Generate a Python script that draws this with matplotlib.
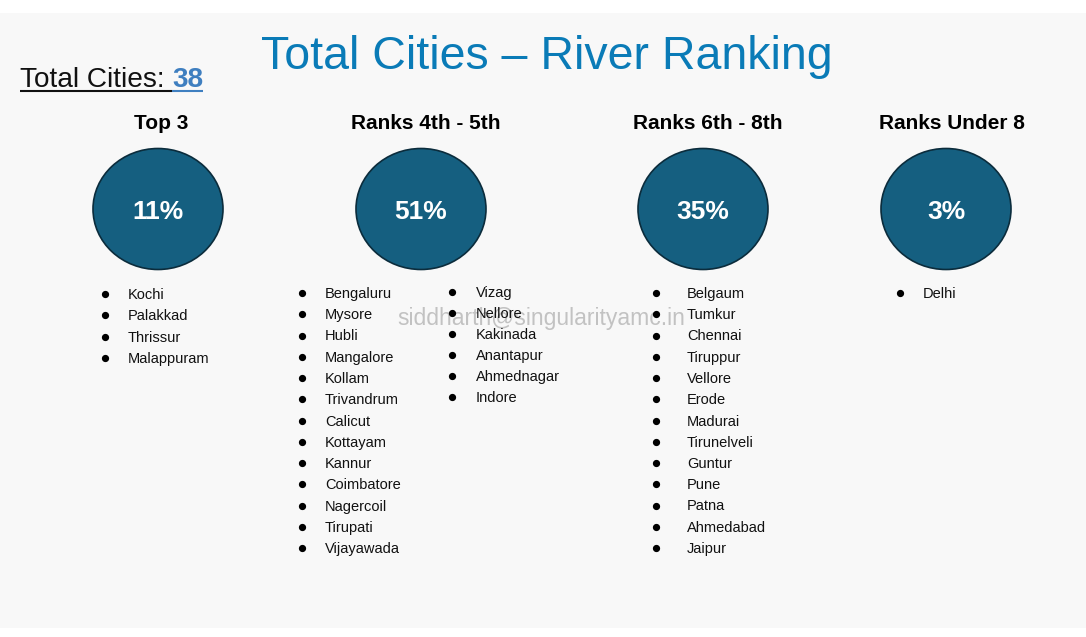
import matplotlib
matplotlib.use("Agg")
import matplotlib.pyplot as plt
from matplotlib.patches import Ellipse, Rectangle

plt.rcParams['font.family'] = ['Liberation Sans', 'DejaVu Sans']

title = "Total Cities – River Ranking"
total_label = "Total Cities: "
total_cities = 38
groups = ["Top 3", "Ranks 4th - 5th", "Ranks 6th - 8th", "Ranks Under 8"]
percents = [11, 51, 35, 3]
cities_top3 = ["Kochi", "Palakkad", "Thrissur", "Malappuram"]
cities_r45_a = ["Bengaluru", "Mysore", "Hubli", "Mangalore", "Kollam", "Trivandrum",
                "Calicut", "Kottayam", "Kannur", "Coimbatore", "Nagercoil", "Tirupati",
                "Vijayawada"]
cities_r45_b = ["Vizag", "Nellore", "Kakinada", "Anantapur", "Ahmednagar", "Indore"]
cities_r68 = ["Belgaum", "Tumkur", "Chennai", "Tiruppur", "Vellore", "Erode", "Madurai",
              "Tirunelveli", "Guntur", "Pune", "Patna", "Ahmedabad", "Jaipur"]
cities_under8 = ["Delhi"]
watermark = "siddharth@singularityamc.in"

W, H = 1086, 637
fig = plt.figure(figsize=(W / 100, H / 100), dpi=100, facecolor="white")
ax = fig.add_axes([0, 0, 1, 1])
ax.set_xlim(0, W)
ax.set_ylim(H, 0)
ax.axis("off")

ax.add_patch(Rectangle((0, 13), W, 615, facecolor="#f8f8f8", edgecolor="none", zorder=0))

# Title
ax.text(547, 69, title, ha="center", va="baseline", fontsize=33.5, color="#0a7bb7")

# Total cities
t1 = ax.text(20, 87, total_label, ha="left", va="baseline", fontsize=20.2, color="#111111")
fig.canvas.draw()
r = fig.canvas.get_renderer()
bb = t1.get_window_extent(r)
x2 = bb.x1
t2 = ax.text(x2, 87, str(total_cities), ha="left", va="baseline", fontsize=20.2,
             fontweight="bold", color="#3f7fc0")
bb2 = t2.get_window_extent(r)
x_end = bb2.x1
ax.plot([20, x2], [91, 91], color="#111111", lw=1.5, solid_capstyle="butt")
ax.plot([x2, x_end], [91, 91], color="#3f7fc0", lw=1.5, solid_capstyle="butt")

# Groups
centers_x = [158, 421, 703, 946]
head_x = [161, 426, 708, 952]
for cx, hx, g, p in zip(centers_x, head_x, groups, percents):
    ax.text(hx, 129, g, ha="center", va="baseline", fontsize=15, fontweight="bold",
            color="#000000")
    ax.add_patch(Ellipse((cx, 209), 130, 121, facecolor="#155f80", edgecolor="#0b2c3c",
                         lw=1.2, zorder=2))
    ax.text(cx, 219, f"{p}%", ha="center", va="baseline", fontsize=19,
            fontweight="bold", color="white", zorder=3)

# Watermark (behind list text)
ax.text(541, 319, watermark, ha="center", va="center", fontsize=16.5, color="#c2c2c2",
        zorder=1)

# Lists
def draw_list(items, bx, tx, y0, step):
    for i, name in enumerate(items):
        yb = y0 + i * step
        ax.plot([bx], [yb - 5], marker="o", markersize=4.2, color="#000000", zorder=3)
        ax.text(tx, yb, name, ha="left", va="baseline", fontsize=10.5, color="#111111",
                zorder=3)

draw_list(cities_top3, 105, 128, 299, 21.3)
draw_list(cities_r45_a, 302, 325, 298, 21.25)
draw_list(cities_r45_b, 452, 476, 297, 21.0)
draw_list(cities_r68, 656, 687, 298, 21.25)
draw_list(cities_under8, 900, 923, 298, 21.25)

fig.savefig("out.png", dpi=100, facecolor="white")
